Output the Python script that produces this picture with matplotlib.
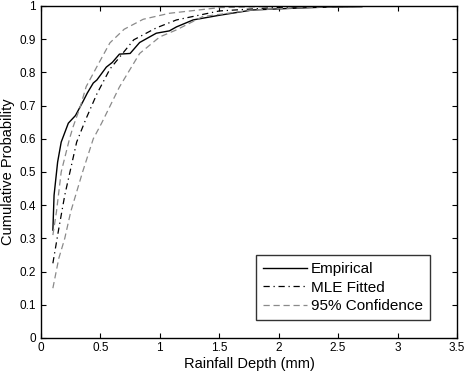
import numpy as np
import matplotlib
matplotlib.use("Agg")
import matplotlib.pyplot as plt

plt.rcParams['font.family'] = ['Liberation Sans', 'DejaVu Sans']

# values
emp_x = [0.10, 0.11, 0.14, 0.17, 0.23, 0.29, 0.35, 0.39, 0.44, 0.47, 0.55, 0.60,
         0.66, 0.75, 0.83, 0.97, 1.08, 1.14, 1.28, 1.50, 1.78, 2.18, 2.43, 2.70]
emp_y = [0.325, 0.43, 0.53, 0.59, 0.647, 0.67, 0.71, 0.738, 0.768, 0.777, 0.816, 0.83,
         0.855, 0.857, 0.89, 0.918, 0.925, 0.937, 0.958, 0.972, 0.988, 0.994, 0.997, 0.998]

mle_x = [0.10, 0.15, 0.20, 0.25, 0.30, 0.375, 0.47, 0.58, 0.78, 0.97, 1.14, 1.50, 2.00, 2.70]
mle_y = [0.225, 0.33, 0.43, 0.51, 0.59, 0.657, 0.735, 0.81, 0.898, 0.934, 0.958, 0.985, 0.996, 0.999]

up_x = [0.10, 0.13, 0.17, 0.24, 0.27, 0.33, 0.38, 0.47, 0.58, 0.70, 0.86, 1.08, 1.50, 2.00, 2.70]
up_y = [0.31, 0.38, 0.50, 0.60, 0.636, 0.696, 0.757, 0.817, 0.889, 0.93, 0.96, 0.978, 0.995, 0.999, 1.0]

lo_x = [0.10, 0.15, 0.20, 0.25, 0.35, 0.44, 0.51, 0.66, 0.83, 1.00, 1.14, 1.36, 1.78, 2.20, 2.70]
lo_y = [0.15, 0.24, 0.30, 0.38, 0.50, 0.60, 0.647, 0.756, 0.857, 0.907, 0.928, 0.968, 0.988, 0.995, 0.999]

x_ticks = [0, 0.5, 1, 1.5, 2, 2.5, 3, 3.5]
y_ticks = [0, 0.1, 0.2, 0.3, 0.4, 0.5, 0.6, 0.7, 0.8, 0.9, 1]

fig = plt.figure(figsize=(4.75, 3.74), dpi=100)
ax = fig.add_axes([0.0863, 0.0963, 0.8757, 0.8877])

gray = '#8a8a8a'
ax.plot(emp_x, emp_y, color='black', linewidth=1.0, label='Empirical')
ax.plot(mle_x, mle_y, color='black', linewidth=0.9, linestyle=(0, (5, 3, 1, 3)),
        label='MLE Fitted')
ax.plot(up_x, up_y, color=gray, linewidth=0.9, linestyle=(0, (5, 3)),
        label='95% Confidence')
ax.plot(lo_x, lo_y, color=gray, linewidth=0.9, linestyle=(0, (5, 3)))

ax.set_xlim(0, 3.5)
ax.set_ylim(0, 1)
ax.set_xticks(x_ticks)
ax.set_xticklabels([('%g' % v) for v in x_ticks])
ax.set_yticks(y_ticks)
ax.set_yticklabels([('%g' % v) for v in y_ticks])
ax.tick_params(direction='in', length=3.5, width=0.8, labelsize=8.5,
               top=True, right=True, colors='black')
ax.tick_params(axis='x', pad=3)
for s in ax.spines.values():
    s.set_linewidth(1.0)

ax.set_xlabel('Rainfall Depth (mm)', fontsize=10.5, labelpad=2)
ax.set_ylabel('Cumulative Probability', fontsize=10.5, labelpad=3)

leg = ax.legend(loc='lower right', bbox_to_anchor=(0.935, 0.054), fontsize=11,
                frameon=True, fancybox=False, handlelength=2.9, handletextpad=0.25,
                borderpad=0.45, labelspacing=0.3, borderaxespad=0)
leg.get_frame().set_edgecolor('black')
leg.get_frame().set_linewidth(1.0)

fig.savefig('out.png', dpi=100)
